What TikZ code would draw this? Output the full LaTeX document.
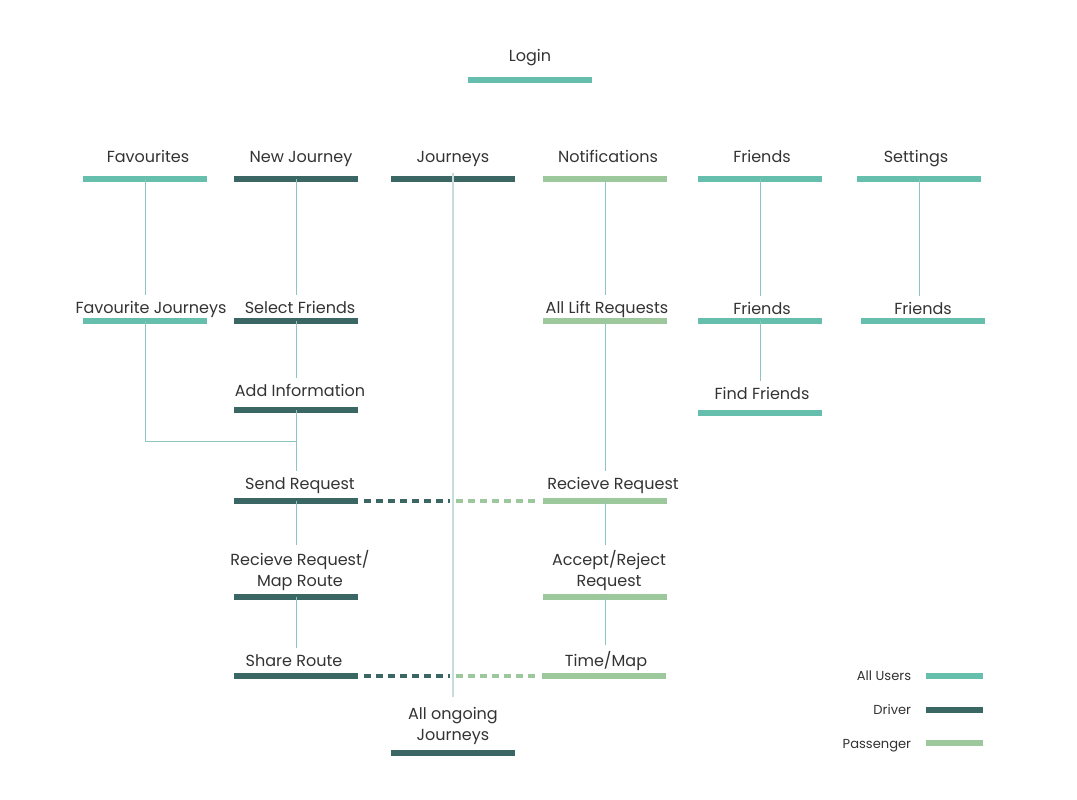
\documentclass[tikz,border=0pt]{standalone}
\usepackage{fontspec}
\setmainfont{Poppins}
\usepackage{xcolor}
\usepackage{tikz}
\usetikzlibrary{positioning}
\definecolor{allu}{HTML}{66BFAD}
\definecolor{drv}{HTML}{3A6763}
\definecolor{psg}{HTML}{9DC89C}
\definecolor{lnk}{HTML}{8FC5BF}
\definecolor{jln}{HTML}{C6DDDB}
\definecolor{txt}{HTML}{333333}
\tikzset{
  lbl/.style={text=txt,font=\fontsize{11.4}{14.5}\selectfont,align=center,inner sep=4pt,anchor=base},
  keylbl/.style={lbl,anchor=base east,font=\fontsize{9.3}{11}\selectfont},
  barline/.style={line width=3.6pt},
  link/.style={lnk,line width=0.7pt},
  jlink/.style={jln,line width=0.9pt},
  dashbar/.style={line width=3pt,dash pattern=on 5pt off 3.6pt}
}
% name, text x, text baseline y, bar x, bar y, colour, text
\newcommand{\screen}[7]{%
  \node[lbl] (#1) at (#2,#3) {#7};
  \draw[barline,#6] (#4-62,#5) coordinate (#1-l) -- (#4+62,#5) coordinate (#1-r);
  \coordinate (#1-b) at (#4,#5);}
\begin{document}
\begin{tikzpicture}[x=0.025cm,y=-0.025cm]
\useasboundingbox (0,0) rectangle (1077,800);
\screen{login}{530}{62}{530}{80}{allu}{Login}
% top row
\screen{fav}{148}{163}{145}{179}{allu}{Favourites}
\screen{newj}{301}{163}{296}{179}{drv}{New Journey}
\screen{jour}{453}{163}{453}{179}{drv}{Journeys}
\screen{noti}{608}{163}{605}{179}{psg}{Notifications}
\screen{frnd}{762}{163}{760}{179}{allu}{Friends}
\screen{sett}{916}{163}{919}{179}{allu}{Settings}
% second row
\screen{favj}{151}{313}{145}{321}{allu}{Favourite Journeys}
\screen{self}{300}{313}{296}{321}{drv}{Select Friends}
\screen{lift}{607}{313}{605}{321}{psg}{All Lift Requests}
\screen{frnd2}{762}{314}{760}{321}{allu}{Friends}
\screen{sett2}{923}{314}{923}{321}{allu}{Friends}
\screen{addi}{300}{396}{296}{410}{drv}{Add Information}
\screen{find}{762}{399}{760}{413}{allu}{Find Friends}
% requests
\screen{send}{300}{489}{296}{501}{drv}{Send Request}
\screen{recv}{613}{489}{605}{501}{psg}{Recieve Request}
\screen{maprt}{300}{586}{296}{597}{drv}{Recieve Request/\\Map Route}
\screen{accp}{609}{586}{605}{597}{psg}{Accept/Reject\\Request}
\screen{share}{294}{666}{296}{676}{drv}{Share Route}
\screen{time}{606}{666}{604}{676}{psg}{Time/Map}
\screen{ongo}{453}{740}{453}{753}{drv}{All ongoing\\Journeys}
% connectors
\draw[link] (fav-b) -- (fav-b |- favj.north);
\draw[link] (newj-b) -- (newj-b |- self.north);
\draw[link] (self-b) -- (self-b |- addi.north);
\coordinate (join) at (296,441);
\draw[link] (favj-b) |- (join);
\draw[link] (addi-b) -- (addi-b |- send.north);
\draw[link] (send-b) -- (send-b |- maprt.north);
\draw[link] (maprt-b) -- (maprt-b |- share.north);
\draw[link] (noti-b) -- (noti-b |- lift.north);
\draw[link] (lift-b) -- (lift-b |- recv.north);
\draw[link] (recv-b) -- (recv-b |- accp.north);
\draw[link] (accp-b) -- (accp-b |- time.north);
\draw[link] (frnd-b) -- (frnd-b |- frnd2.north);
\draw[link] (frnd2-b) -- (frnd2-b |- find.north);
\draw[link] (sett-b) -- (sett-b |- sett2.north);
\draw[jlink] (jour.south) -- ([yshift=3pt]ongo.north);
% dashed hand-overs
\draw[dashbar,drv] ([xshift=4]send-r) -- ([xshift=-2]send-r -| jour);
\draw[dashbar,psg] ([xshift=2]send-r -| jour) -- ([xshift=-3]recv-l);
\draw[dashbar,drv] ([xshift=4]share-r) -- ([xshift=-2]share-r -| jour);
\draw[dashbar,psg] ([xshift=2]share-r -| jour) -- ([xshift=-3]time-l);
% legend
\node[keylbl] (kall) at (917,680) {All Users};
\node[keylbl] (kdrv) at (917,714) {Driver};
\node[keylbl] (kpsg) at (917,748) {Passenger};
\draw[barline,allu] (926,676) -- (983,676);
\draw[barline,drv] (926,710) -- (983,710);
\draw[barline,psg] (926,743) -- (983,743);
\end{tikzpicture}
\end{document}
